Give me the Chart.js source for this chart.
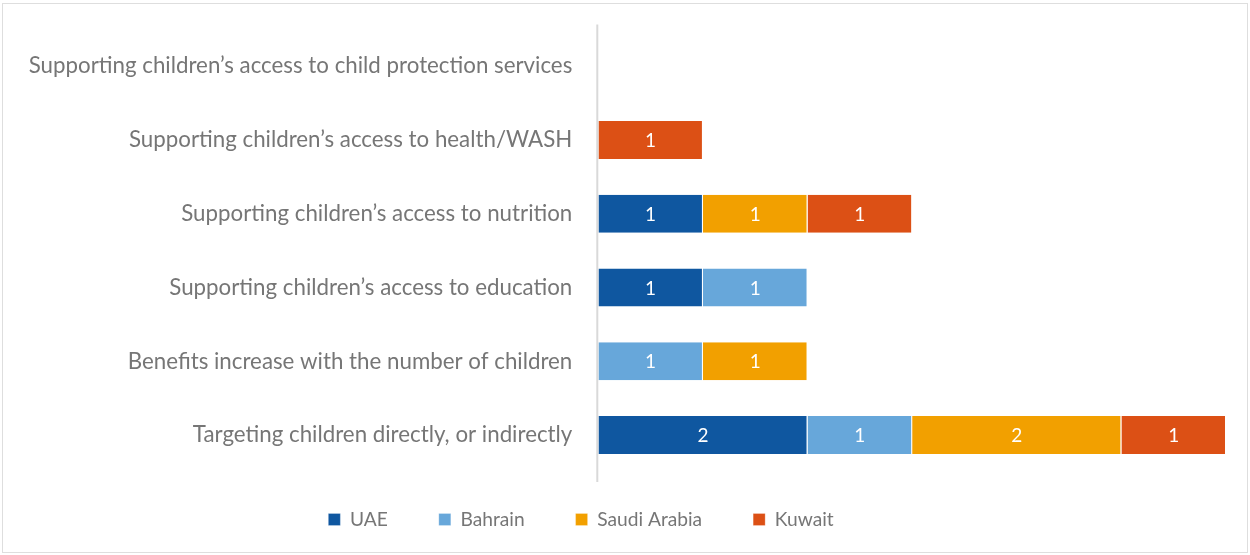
<!DOCTYPE html>
<html>
<head>
<meta charset="utf-8">
<script src="https://cdn.jsdelivr.net/npm/chart.js@4"></script>
<style>
html,body{margin:0;padding:0;background:#fff;}
</style>
</head>
<body>
<canvas id="c" width="1250" height="555"></canvas>
<script>
const categories = [
  "Supporting children\u2019s access to child protection services",
  "Supporting children\u2019s access to health/WASH",
  "Supporting children\u2019s access to nutrition",
  "Supporting children\u2019s access to education",
  "Benefits increase with the number of children",
  "Targeting children directly, or indirectly"
];
const seriesNames = ["UAE", "Bahrain", "Saudi Arabia", "Kuwait"];
const uae     = [0, 0, 1, 1, 0, 2];
const bahrain = [0, 0, 0, 1, 1, 1];
const saudi   = [0, 0, 1, 0, 1, 2];
const kuwait  = [0, 1, 1, 0, 0, 1];
const colors = ["#0F57A0", "#67A7DA", "#F2A000", "#DC5015"];
const FONT = "Lato";
const LABEL_SIZE = 22.3;
const LEGEND_SIZE = 19.2;
const LEGEND_PAD = 51;

const valueLabels = {
  id: 'valueLabels',
  afterDatasetsDraw(chart) {
    const ctx = chart.ctx;
    ctx.save();
    ctx.fillStyle = '#ffffff';
    ctx.font = "19px " + FONT;
    ctx.textAlign = 'center';
    ctx.textBaseline = 'middle';
    chart.data.datasets.forEach((ds, i) => {
      const meta = chart.getDatasetMeta(i);
      meta.data.forEach((bar, j) => {
        const v = ds.data[j];
        if (!v) return;
        const p = bar.getProps(['x', 'y', 'base'], true);
        ctx.fillText(String(v), (p.x + p.base) / 2, p.y + 1);
      });
    });
    ctx.restore();
  }
};

const frame = {
  id: 'frame',
  beforeDraw(chart) {
    const ctx = chart.ctx;
    ctx.save();
    ctx.fillStyle = '#ffffff';
    ctx.fillRect(0, 0, chart.width, chart.height);
    ctx.strokeStyle = '#dedede';
    ctx.lineWidth = 1;
    ctx.strokeRect(2.5, 3.5, chart.width - 5, chart.height - 6);
    ctx.restore();
  },
  afterDatasetsDraw(chart) {
    const ctx = chart.ctx;
    const a = chart.chartArea;
    const x0 = chart.scales.x.getPixelForValue(0) - 1;
    ctx.save();
    ctx.strokeStyle = '#d9d9d9';
    ctx.lineWidth = 2;
    ctx.beginPath();
    ctx.moveTo(x0, a.top - 5);
    ctx.lineTo(x0, a.bottom + 10);
    ctx.stroke();
    ctx.restore();
  },
  afterLayout(chart) {
    const l = chart.legend;
    if (!l) return;
    const dx = 581 - (l.left + l.right) / 2;
    const dy = 519.5 - (l.top + LEGEND_PAD + LEGEND_SIZE / 2);
    l.left += dx; l.right += dx; l.top += dy; l.bottom += dy;
  }
};

const seriesData = [uae, bahrain, saudi, kuwait];
new Chart(document.getElementById('c'), {
  type: 'bar',
  data: {
    labels: categories,
    datasets: seriesNames.map((n, i) => ({
      label: n,
      data: seriesData[i],
      backgroundColor: colors[i],
      borderColor: '#ffffff',
      borderWidth: {left: 0, right: 1, top: 0, bottom: 0},
      borderSkipped: false,
      categoryPercentage: 1,
      barPercentage: 0.515
    }))
  },
  options: {
    indexAxis: 'y',
    responsive: false,
    animation: false,
    layout: {padding: {top: 29.4, right: 24, bottom: 2.8, left: 0}},
    scales: {
      x: {stacked: true, min: 0, max: 6, display: false},
      y: {
        stacked: true,
        grid: {display: false, drawTicks: false},
        border: {display: false},
        ticks: {color: '#767676', font: {family: FONT, size: LABEL_SIZE}, padding: 26},
        afterFit(scale) { scale.width = 598.3; scale.paddingTop = 0; scale.paddingBottom = 0; }
      }
    },
    plugins: {
      legend: {
        position: 'bottom',
        labels: {
          boxWidth: 12, boxHeight: 12, padding: LEGEND_PAD,
          color: '#767676', font: {family: FONT, size: LEGEND_SIZE}
        }
      },
      tooltip: {enabled: false}
    }
  },
  plugins: [frame, valueLabels]
});
</script>
</body>
</html>
